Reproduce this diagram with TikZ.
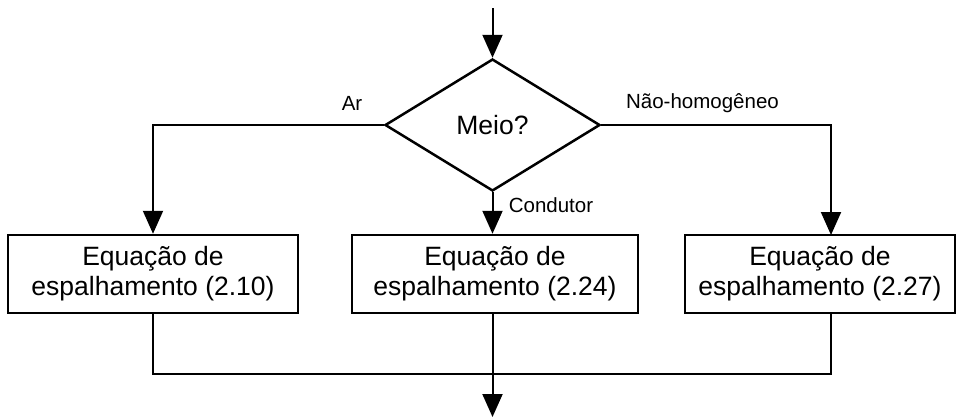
\documentclass[tikz,border=0pt]{standalone}
\usepackage{fontspec}
\setmainfont{Liberation Sans}
\usetikzlibrary{shapes.geometric,arrows.meta}
\begin{document}
\begin{tikzpicture}[x=1pt,y=-1pt,
  box/.style={draw,line width=2.5pt,rectangle,inner sep=0pt,minimum height=78pt,align=center,font=\fontsize{26.5}{30}\selectfont},
  dec/.style={draw,line width=2.5pt,diamond,inner sep=0pt,minimum width=215pt,minimum height=132pt,aspect=1.63,font=\fontsize{26.5}{30}\selectfont},
  conn/.style={line width=2pt},
  arr/.style={conn,-{Triangle[length=23pt,width=20pt]}},
  lbl/.style={font=\fontsize{20.5}{24}\selectfont,inner sep=0pt}]
\useasboundingbox (0,0) rectangle (965,418);
\coordinate (top) at (492.5,8);
\node[dec] (d) at (492.5,125) {Meio?};
\node[box,minimum width=290pt] (lb) at (153,274) {Equação de\\espalhamento (2.10)};
\node[box,minimum width=286pt] (mb) at (495,274) {Equação de\\espalhamento (2.24)};
\node[box,minimum width=270pt] (rb) at (820,274) {Equação de\\espalhamento (2.27)};
\coordinate (j) at (492.5,374);
\coordinate (out) at (492.5,417);
\coordinate (ra) at (831,235);
\draw[arr] (top) -- (d.north);
\draw[arr] (d.west) -| (lb.north);
\draw[arr] (d.south) -- (d.south |- mb.north);
\draw[arr] (d.east) -| (ra);
\draw[conn] (lb.south) |- (j);
\draw[conn] (ra |- rb.south) |- (j);
\draw[arr] (j |- mb.south) -- (out);
\node[lbl] (lar) at (352,103) {Ar};
\node[lbl] (lnh) at (702.5,103) {Não-homogêneo};
\node[lbl] (lco) at (551,205) {Condutor};
\end{tikzpicture}
\end{document}
